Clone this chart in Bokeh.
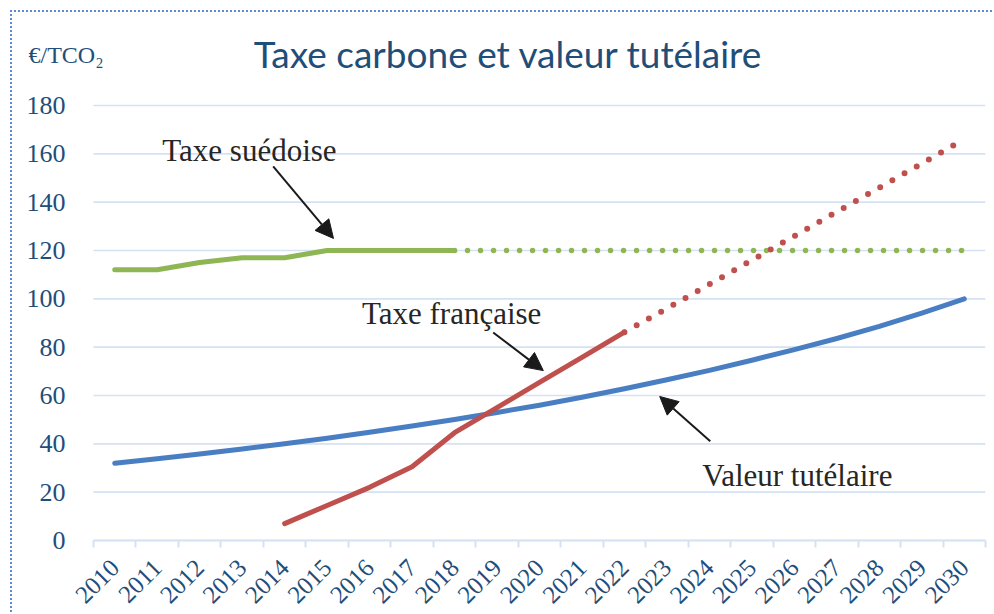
from math import pi
from bokeh.plotting import figure
from bokeh.models import FixedTicker, Range1d, Label, Arrow, NormalHead
from bokeh.embed import file_html
from bokeh.resources import INLINE

# ---------------- data ----------------
years = ["2010", "2011", "2012", "2013", "2014", "2015", "2016", "2017", "2018", "2019",
         "2020", "2021", "2022", "2023", "2024", "2025", "2026", "2027", "2028", "2029", "2030"]
y_ticks = [0, 20, 40, 60, 80, 100, 120, 140, 160, 180]

valeur_tutelaire = [32, 33.8, 35.8, 37.9, 40.0, 42.3, 44.8, 47.4, 50.1, 53.0, 56.0,
                    59.3, 62.8, 66.5, 70.4, 74.6, 79.0, 83.6, 88.6, 94.1, 100.0]

taxe_fr_years = ["2014", "2015", "2016", "2017", "2018", "2019", "2020", "2021", "2022"]
taxe_francaise = [7.0, 14.5, 22.0, 30.5, 44.6, 55.0, 65.4, 75.8, 86.2]

taxe_fr_proj_years = ["2022", "2023", "2024", "2025", "2026", "2027", "2028", "2029", "2030"]
taxe_francaise_proj = [86.2, 96, 106, 116, 126, 136, 146, 156, 166]

taxe_se_years = ["2010", "2011", "2012", "2013", "2014", "2015", "2016", "2017", "2018"]
taxe_suedoise = [112, 112, 115, 117, 117, 120, 120, 120, 120]

taxe_se_proj_years = ["2018", "2019", "2020", "2021", "2022", "2023", "2024",
                      "2025", "2026", "2027", "2028", "2029", "2030"]
taxe_suedoise_proj = [120, 120, 120, 120, 120, 120, 120, 120, 120, 120, 120, 120, 120]

# ---------------- style ----------------
DARK_BLUE = "#1F4E79"
GRID = "#D5E2F3"
BLUE = "#4A7EC2"
RED = "#C0504D"
GREEN = "#8FB654"
TEXT = "#262626"
SERIF = "Liberation Serif"

# geometry: the plotting area proper runs from x=93 to x=985 px and from y=105
# to y=540 px (0..180); the bokeh frame is extended up and left so that the
# title and the unit label can live inside it as labels.
W, H = 994, 614
TOP, BOTTOM, LEFT, RIGHT = 20, 74, 20, 9
AREA_LEFT = 93
n = len(years)
unit_px = (W - RIGHT - AREA_LEFT) / n
x_start = -0.5 - (AREA_LEFT - LEFT) / unit_px
y_end = 180 * (H - TOP - BOTTOM) / 435.0


def pos(labels):
    return [years.index(v) for v in labels]


p = figure(width=W, height=H, output_backend="svg", toolbar_location=None,
           x_range=Range1d(x_start, n - 0.5), y_range=Range1d(0, y_end),
           min_border_left=LEFT, min_border_right=RIGHT, min_border_top=TOP,
           min_border_bottom=BOTTOM,
           outline_line_color=None, border_fill_color=None,
           styles={
               "background": "repeating-linear-gradient(90deg, #5A8BD2 0 2px, transparent 2px 4px) 10px 10px / 100% 2px no-repeat, "
                             "repeating-linear-gradient(180deg, #5A8BD2 0 2px, transparent 2px 4px) 10px 10px / 2px 100% no-repeat, white"
           })

# horizontal grid lines, limited to the category span
p.xgrid.grid_line_color = None
p.ygrid.grid_line_color = None
grid_x0 = [pos(years)[0] - 0.5] * len(y_ticks)
grid_x1 = [pos(years)[-1] + 0.5] * len(y_ticks)
p.segment(x0=grid_x0, y0=y_ticks, x1=grid_x1, y1=y_ticks,
          line_color=GRID, line_width=1.6, level="underlay")

# y axis (labels pulled back over the extended frame)
p.yaxis.ticker = FixedTicker(ticks=y_ticks)
p.yaxis.axis_line_color = None
p.yaxis.major_tick_line_color = None
p.yaxis.minor_tick_line_color = None
p.yaxis.major_label_standoff = LEFT - 71
p.yaxis.major_label_text_font = SERIF
p.yaxis.major_label_text_font_size = "26px"
p.yaxis.major_label_text_color = DARK_BLUE

# x axis
p.xaxis.ticker = FixedTicker(ticks=list(range(n)),
                             minor_ticks=[i - 0.5 for i in range(n + 1)])
p.xaxis.bounds = (-0.5, n - 0.5)
p.xaxis.major_label_overrides = {i: y for i, y in enumerate(years)}
p.xaxis.axis_line_color = GRID
p.xaxis.axis_line_width = 2
p.xaxis.major_tick_line_color = None
p.xaxis.minor_tick_line_color = GRID
p.xaxis.minor_tick_line_width = 2
p.xaxis.minor_tick_in = 0
p.xaxis.minor_tick_out = 7
p.xaxis.major_label_orientation = pi / 4
p.xaxis.major_label_standoff = 16
p.xaxis.major_label_text_font = SERIF
p.xaxis.major_label_text_font_size = "25px"
p.xaxis.major_label_text_color = DARK_BLUE

# lines
p.line(pos(years), valeur_tutelaire, line_color=BLUE, line_width=5,
       line_cap="round", line_join="round")
p.line(pos(taxe_se_years), taxe_suedoise, line_color=GREEN, line_width=5,
       line_cap="round", line_join="round")
p.line(pos(taxe_se_proj_years), taxe_suedoise_proj, line_color=GREEN, line_width=5.5,
       line_dash="0 13", line_cap="round")
p.line(pos(taxe_fr_years), taxe_francaise, line_color=RED, line_width=5,
       line_cap="round", line_join="round")
p.line(pos(taxe_fr_proj_years), taxe_francaise_proj, line_color=RED, line_width=6,
       line_dash="0 14", line_cap="round")

# title
p.add_layout(Label(x=3.27, y=201.4, text="Taxe carbone et valeur tutélaire",
                   text_font="Lato", text_font_size="37px", text_color=DARK_BLUE,
                   text_baseline="alphabetic"))

# unit label
p.add_layout(Label(x=-2.03, y=201.0, text="€/TCO₂",
                   text_font=SERIF, text_font_size="24px", text_color=DARK_BLUE,
                   text_baseline="alphabetic"))

for txt, tx, ty, xs, ys, xe, ye in [
    ("Taxe suédoise", 1.12, 161.5, 3.73, 154.8, 5.15, 125.0),
    ("Taxe française", 5.82, 93.8, 8.91, 86.1, 10.09, 70.3),
    ("Valeur tutélaire", 13.83, 26.8, 14.02, 41.1, 12.83, 59.6),
]:
    p.add_layout(Label(x=tx, y=ty, text=txt, text_font=SERIF, text_font_size="31px",
                       text_color=TEXT, text_baseline="alphabetic"))
    p.add_layout(Arrow(x_start=xs, y_start=ys, x_end=xe, y_end=ye,
                       line_color="#1A1A1A", line_width=2,
                       end=NormalHead(size=18, fill_color="#1A1A1A", line_color="#1A1A1A")))

open("out.html", "w").write(file_html(p, INLINE))
